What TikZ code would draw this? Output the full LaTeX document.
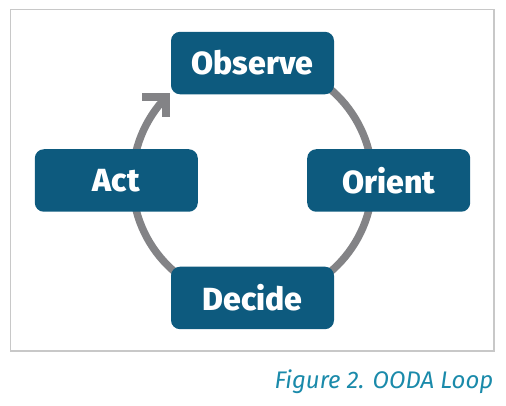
\documentclass[tikz,border=0pt]{standalone}
\usepackage{fontspec}
\setmainfont{Fira Sans}[BoldFont={Fira Sans ExtraBold}]
\newfontfamily\captionfont{Fira Sans Italic}
\usepackage{xcolor}
\definecolor{colorPhase}{HTML}{0D5A7E}
\definecolor{colorLoop}{HTML}{838386}
\definecolor{colorFrame}{HTML}{C8C8C8}
\definecolor{colorCaption}{HTML}{1A8AAA}
\usetikzlibrary{positioning}

\begin{document}
\begin{tikzpicture}[x=1pt, y=1pt,
  phase/.style={fill=colorPhase, rounded corners=9pt, minimum width=163pt, minimum height=62.5pt, inner sep=0pt, text=white, font=\fontsize{32}{36}\selectfont\bfseries},
  loop line/.style={draw=colorLoop, line width=7.5pt}]
\useasboundingbox (0,0) rectangle (506,-406);
\draw[colorFrame, line width=1.5pt] (10.5,-9.5) rectangle (494,-351);
\coordinate (hub) at (252.5,-180.5);
% loop behind the phases, open at the arrow
\draw[loop line] (hub) ++(90:120) arc[start angle=90, end angle=-224, radius=120] coordinate (tip);
\draw[loop line, line join=miter] ([xshift=-24pt]tip) -- (tip) -- ([yshift=-20pt]tip);
\node[phase, above=86pt of hub] (obs) {Observe};
\node[phase, right=54.5pt of hub] (ori) {Orient};
\node[phase, below=86pt of hub] (dec) {Decide};
\node[phase, left=54.5pt of hub] (act) {Act};
\node[anchor=base east, inner sep=0pt, text=colorCaption, font=\fontsize{24}{27}\captionfont] (cap) at (493.5,-388) {Figure 2. OODA Loop};
\end{tikzpicture}
\end{document}
